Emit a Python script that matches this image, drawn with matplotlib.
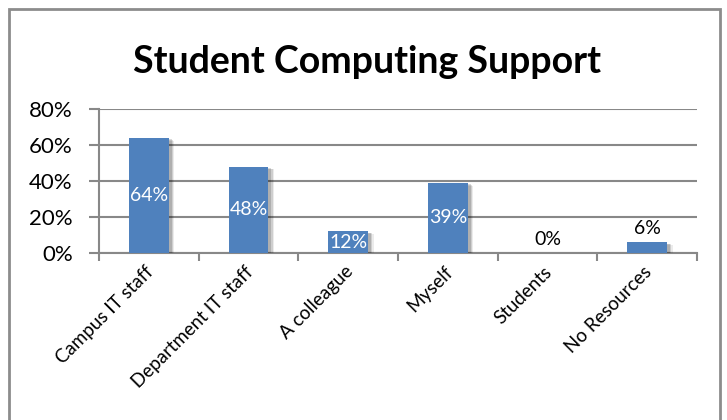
import matplotlib.pyplot as plt
import matplotlib.patheffects as pe
import matplotlib.transforms as mtransforms
from matplotlib.patches import Rectangle
from matplotlib.ticker import FuncFormatter

categories = ['Campus IT staff', 'Department IT staff', 'A colleague',
              'Myself', 'Students', 'No Resources']
values = [64, 48, 12, 39, 0, 6]

plt.rcParams['font.family'] = ['Lato', 'DejaVu Sans']

bar_color = '#4F81BD'
axis_gray = '#888888'

fig = plt.figure(figsize=(7.27, 4.2), dpi=100)
ax = fig.add_axes([0.1362, 0.3976, 0.8225, 0.3429])

x = list(range(len(categories)))
shadow = [pe.SimplePatchShadow(offset=(4, -2), shadow_rgbFace='#000000', alpha=0.08),
          pe.SimplePatchShadow(offset=(3, -1.5), shadow_rgbFace='#000000', alpha=0.12),
          pe.SimplePatchShadow(offset=(2, -1), shadow_rgbFace='#000000', alpha=0.15),
          pe.Normal()]
bars = ax.bar(x, values, width=0.4, color=bar_color, zorder=3)
for b in bars:
    b.set_path_effects(shadow)

# value labels: white inside the taller bars, black above the short ones
for xi, v in zip(x, values):
    if v >= 10:
        ax.text(xi, v / 2, f'{v}%', color='white', ha='center', va='center',
                fontsize=14, zorder=4)
    else:
        ax.annotate(f'{v}%', (xi, v), xytext=(0, 10), textcoords='offset points',
                    ha='center', va='center', fontsize=14, color='black', zorder=4)

ax.set_xlim(-0.5, len(categories) - 0.5)
ax.set_ylim(0, 80)
ax.set_yticks([0, 20, 40, 60, 80])
ax.yaxis.set_major_formatter(FuncFormatter(lambda v, p: f'{v:.0f}%'))
ax.grid(axis='y', color=axis_gray, linewidth=1.5, zorder=0)
ax.set_axisbelow(True)

# category boundary ticks on the x axis, names placed as rotated text
ax.set_xticks([i - 0.5 for i in range(len(categories) + 1)])
ax.set_xticklabels([])
lbl_trans = ax.get_xaxis_transform() + mtransforms.ScaledTranslation(
    -0.04, -0.10, fig.dpi_scale_trans)
for xi, name in zip(x, categories):
    ax.text(xi, 0, name, transform=lbl_trans, rotation=45, ha='right', va='top',
            rotation_mode='anchor', fontsize=13.5)
ax.tick_params(axis='x', which='major', length=6, color=axis_gray, width=1.5)
ax.tick_params(axis='y', length=7, color=axis_gray, width=1.5, pad=12, labelsize=16)

for side in ['top', 'right']:
    ax.spines[side].set_visible(False)
for side in ['left', 'bottom']:
    ax.spines[side].set_color(axis_gray)
    ax.spines[side].set_linewidth(1.5)

fig.text(0.505, 0.852, 'Student Computing Support', ha='center', va='center',
         fontsize=27, fontweight='bold')

# chart frame
fig.patches.append(Rectangle((9 / 727, -0.05), 711 / 727, 1.05 - 9 / 420,
                             transform=fig.transFigure, fill=False,
                             edgecolor='#8c8c8c', linewidth=2))

fig.savefig('out.png', dpi=100)
